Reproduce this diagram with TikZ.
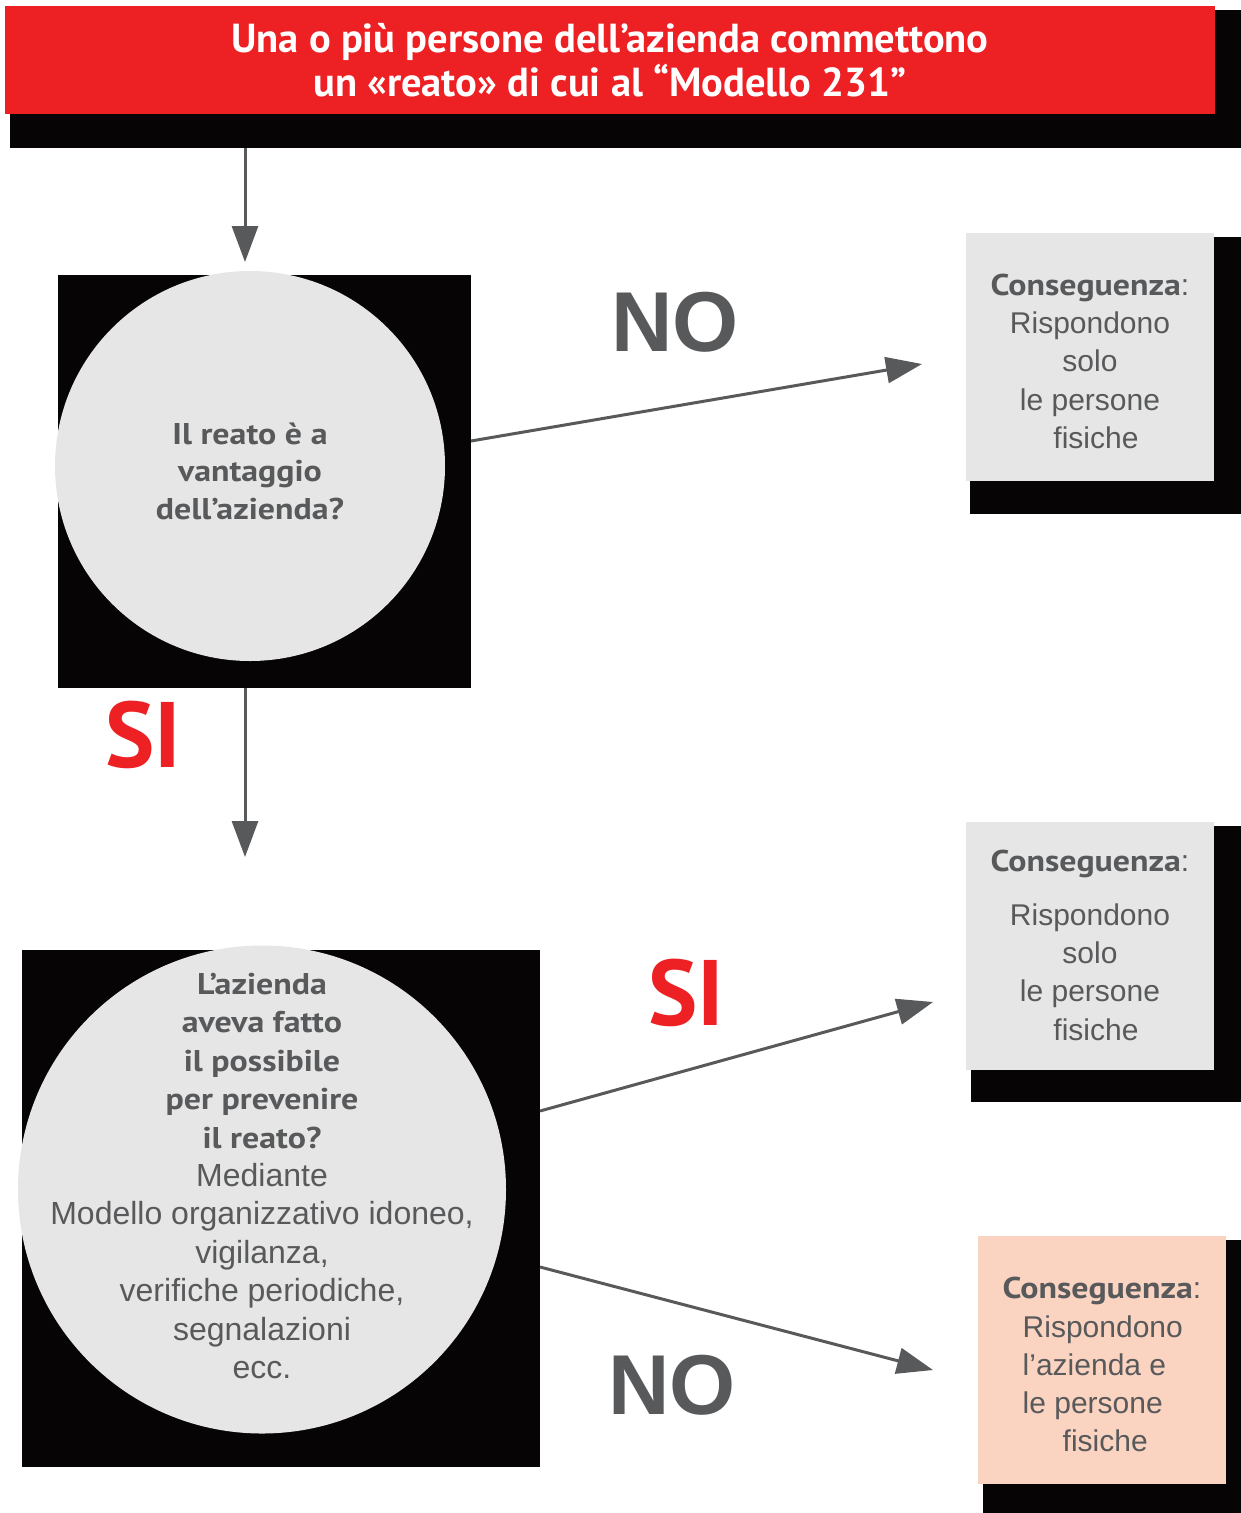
\documentclass[tikz,border=0pt]{standalone}
\usepackage{fontspec}
\setmainfont{Liberation Sans}
\newfontfamily\myriad[FakeStretch=1.13]{PT Sans}
\newfontfamily\sifont{PT Sans}
\newfontfamily\titlefont{PT Sans}
\usetikzlibrary{arrows.meta}
\definecolor{myred}{HTML}{ED2024}
\definecolor{txtgray}{HTML}{58595B}
\definecolor{arrgray}{HTML}{58595B}
\definecolor{circgray}{HTML}{E6E6E6}
\definecolor{boxgray}{HTML}{E6E6E6}
\definecolor{peach}{HTML}{FBD3C1}
\definecolor{shadowblack}{HTML}{060405}
\tikzset{
  shadowbox/.style={fill=shadowblack, draw=none, inner sep=0pt, outer sep=0pt},
  redbox/.style={fill=myred, draw=none, inner sep=0pt, outer sep=0pt, text=white, align=center,
    minimum width=1210pt, minimum height=108pt,
    font=\titlefont\bfseries\fontsize{40.5}{44}\selectfont},
  circ/.style={circle, fill=circgray, draw=none, inner sep=0pt, outer sep=0pt},
  qtext/.style={text=txtgray, align=center, inner sep=0pt, font=\fontsize{32}{38.4}\selectfont},
  conbox/.style={fill=boxgray, draw=none, inner sep=0pt, outer sep=0pt, minimum width=248pt,
    minimum height=248pt, text=txtgray, align=center, font=\fontsize{30}{38.3}\selectfont},
  arr/.style={draw=arrgray, line width=3pt, -{Triangle[length=36pt,width=26pt]}},
  nolabel/.style={text=txtgray, inner sep=0pt, font=\bfseries\fontsize{85}{85}\selectfont},
  silabel/.style={text=myred, inner sep=0pt, font=\sifont\bfseries\fontsize{93}{93}\selectfont},
}
\newcommand{\bmy}[1]{{\myriad\bfseries\fontsize{30}{38.4}\selectfont #1}}
\begin{document}
\begin{tikzpicture}[x=1pt,y=-1pt]
\useasboundingbox (0,0) rectangle (1241,1513);
% title
\node[shadowbox, minimum width=1231pt, minimum height=138pt] (tsh) at (625.5,79) {};
\node[redbox] (title) at (610,60) {Una o più persone dell’azienda commettono\\un «reato» di cui al “Modello 231”};
% first question
\node[shadowbox, minimum size=413pt] (sq1) at (264.5,481.5) {};
\node[circ, minimum size=390pt] (q1) at (250,466) {};
\node[qtext, font=\myriad\bfseries\fontsize{30}{37.5}\selectfont] (q1t) at (250,471) {Il reato è a\\vantaggio\\dell’azienda?};
% consequence 1
\node[shadowbox, minimum width=271pt, minimum height=277pt] (b1sh) at (1105.5,375.5) {};
\node[conbox] (b1) at (1090,357) {\rule{0pt}{30pt}\bmy{Conseguenza}:\\Rispondono\\solo\\le persone\\\hspace*{12pt}fisiche};
% second question
\node[shadowbox, minimum width=518pt, minimum height=517pt] (sq2) at (281,1208.5) {};
\node[circ, minimum size=488pt] (q2) at (262,1189.5) {};
\node[qtext] (q2t) at (262,1176) {\bmy{L’azienda}\\\bmy{aveva fatto}\\\bmy{il possibile}\\\bmy{per prevenire}\\\bmy{il reato?}\\Mediante\\Modello organizzativo idoneo,\\vigilanza,\\verifiche periodiche,\\segnalazioni\\ecc.};
% consequence 2
\node[shadowbox, minimum width=270pt, minimum height=276pt] (b2sh) at (1106,964) {};
\node[conbox] (b2) at (1090,945.5) {\bmy{Conseguenza}:\\[15pt]Rispondono\\solo\\le persone\\\hspace*{12pt}fisiche};
% consequence 3
\node[shadowbox, minimum width=258pt, minimum height=273pt] (b3sh) at (1112,1376.5) {};
\node[conbox, fill=peach, align=left] (b3) at (1102,1360) {\rule{0pt}{31pt}\bmy{Conseguenza}:\\\hspace*{20pt}Rispondono\\\hspace*{20pt}l’azienda e\\\hspace*{20pt}le persone\\\hspace*{60pt}fisiche};
% labels
\node[nolabel] (no1) at (675,322) {NO};
\node[silabel] (si1) at (143,735) {SI};
\node[silabel] (si2) at (686,993) {SI};
\node[nolabel] (no2) at (672,1385) {NO};
% connectors
\draw[arr] ([xshift=-5pt]q1.center |- tsh.south) -- ([xshift=-5pt,yshift=9pt]q1.north);
\draw[arr] ([yshift=40.5pt]sq1.east) -- ([xshift=-44pt,yshift=-7pt]b1.west);
\draw[arr] ([xshift=-19.5pt]sq1.south) -- ([xshift=-36pt,yshift=93pt]sq2.north);
\draw[arr] ([yshift=97.5pt]sq2.east) -- ([xshift=-33pt,yshift=-56.5pt]b2.west);
\draw[arr] ([yshift=-58.5pt]sq2.east) -- ([xshift=-45pt,yshift=-10pt]b3.west);
\end{tikzpicture}
\end{document}
